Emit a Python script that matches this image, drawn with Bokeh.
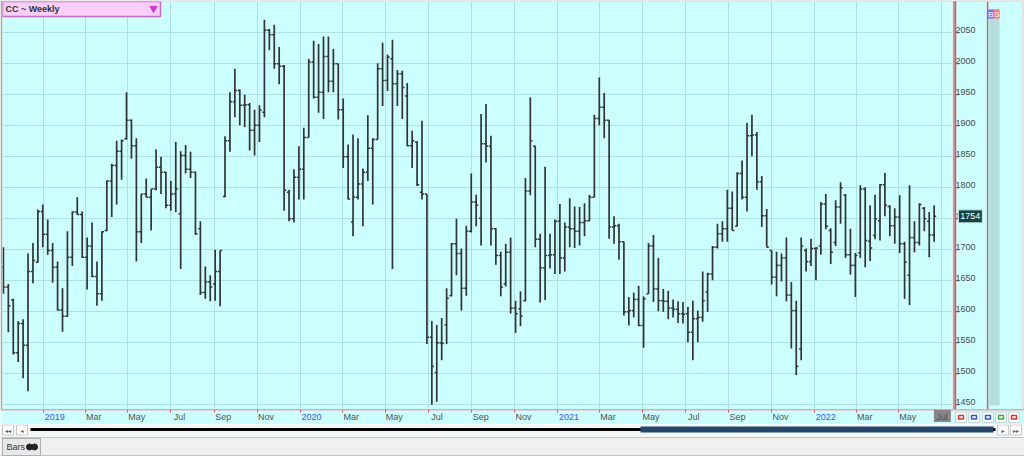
import pandas as pd
from bokeh.plotting import figure
from bokeh.models import Range1d, FixedTicker, ColumnDataSource, LinearAxis
from bokeh.layouts import column, row
from bokeh.embed import file_html
from bokeh.resources import INLINE
from bokeh.core.properties import value

# ---------------- data ----------------
title_text = "CC ~ Weekly"
first_week = "2018-11-05"

opens = [1672, 1640, 1619, 1534, 1581, 1546, 1665, 1680, 1762, 1725,
         1699, 1672, 1603, 1593, 1688, 1761, 1757, 1688, 1706, 1657,
         1629, 1731, 1811, 1836, 1859, 1879, 1909, 1868, 1729, 1790,
         1785, 1798, 1833, 1825, 1772, 1790, 1758, 1852, 1830, 1825,
         1734, 1631, 1648, 1645, 1665, 1786, 1876, 1939, 1957, 1933,
         1934, 1893, 1901, 1922, 2054, 2047, 2000, 1996, 1793, 1750,
         1817, 1830, 1881, 2003, 1946, 1954, 2012, 1972, 2000, 1926,
         1850, 1745, 1785, 1806, 1825, 1864, 1878, 1992, 1973, 2008,
         1968, 1984, 1948, 1868, 1874, 1793, 1790, 1559, 1502, 1550,
         1579, 1626, 1710, 1694, 1638, 1730, 1777, 1751, 1871, 1867,
         1734, 1691, 1645, 1696, 1606, 1605, 1618, 1795, 1867, 1717,
         1671, 1691, 1692, 1746, 1687, 1737, 1734, 1730, 1744, 1747,
         1785, 1912, 1930, 1909, 1737, 1739, 1713, 1600, 1602, 1620,
         1578, 1629, 1706, 1637, 1618, 1617, 1606, 1604, 1597, 1597,
         1567, 1589, 1591, 1632, 1661, 1704, 1726, 1734, 1767, 1738,
         1823, 1785, 1884, 1885, 1810, 1755, 1699, 1656, 1675, 1687,
         1627, 1602, 1540, 1699, 1681, 1702, 1706, 1774, 1731, 1712,
         1769, 1788, 1692, 1675, 1695, 1798, 1714, 1723, 1747, 1805,
         1770, 1739, 1753, 1710, 1659, 1720, 1712, 1767, 1746, 1724]
highs = [1704, 1645, 1621, 1585, 1588, 1694, 1711, 1765, 1773, 1749,
         1711, 1681, 1638, 1730, 1762, 1785, 1762, 1720, 1744, 1681,
         1730, 1812, 1839, 1876, 1878, 1954, 1910, 1880, 1790, 1815,
         1798, 1862, 1850, 1826, 1811, 1874, 1859, 1869, 1858, 1826,
         1746, 1673, 1659, 1700, 1699, 1883, 1954, 1992, 1959, 1950,
         1937, 1926, 1933, 2071, 2056, 2063, 2027, 1998, 1797, 1830,
         1867, 1897, 2008, 2037, 2032, 2044, 2044, 2024, 2000, 1944,
         1870, 1886, 1880, 1831, 1917, 1880, 2001, 2034, 2015, 2039,
         1990, 1989, 1969, 1892, 1875, 1908, 1790, 1585, 1579, 1590,
         1638, 1711, 1750, 1702, 1739, 1823, 1789, 1919, 1935, 1884,
         1735, 1697, 1710, 1720, 1618, 1633, 1816, 1946, 1868, 1726,
         1834, 1726, 1749, 1774, 1744, 1783, 1770, 1769, 1775, 1789,
         1918, 1978, 1953, 1909, 1754, 1742, 1713, 1624, 1631, 1642,
         1625, 1711, 1724, 1687, 1637, 1634, 1620, 1617, 1616, 1608,
         1618, 1602, 1665, 1663, 1706, 1742, 1746, 1797, 1794, 1825,
         1844, 1905, 1918, 1890, 1819, 1766, 1699, 1697, 1694, 1720,
         1648, 1618, 1720, 1702, 1718, 1704, 1777, 1790, 1735, 1780,
         1809, 1790, 1734, 1695, 1804, 1801, 1772, 1789, 1806, 1824,
         1772, 1767, 1788, 1713, 1804, 1746, 1775, 1769, 1761, 1772]
lows = [1629, 1567, 1531, 1519, 1493, 1472, 1646, 1679, 1704, 1692,
        1647, 1602, 1568, 1592, 1674, 1756, 1687, 1636, 1656, 1610,
        1618, 1730, 1753, 1773, 1813, 1878, 1847, 1681, 1711, 1785,
        1731, 1796, 1790, 1767, 1763, 1761, 1669, 1823, 1816, 1724,
        1627, 1621, 1617, 1618, 1609, 1785, 1858, 1914, 1901, 1898,
        1860, 1852, 1874, 1914, 2022, 1992, 1967, 1763, 1746, 1744,
        1781, 1781, 1881, 1944, 1921, 1911, 1954, 1954, 1910, 1832,
        1781, 1722, 1781, 1738, 1811, 1773, 1878, 1932, 1956, 1669,
        1932, 1911, 1867, 1832, 1803, 1781, 1548, 1450, 1455, 1522,
        1548, 1625, 1659, 1602, 1626, 1728, 1738, 1707, 1841, 1707,
        1676, 1625, 1641, 1597, 1566, 1577, 1617, 1788, 1704, 1615,
        1619, 1670, 1661, 1661, 1665, 1704, 1703, 1707, 1722, 1746,
        1785, 1901, 1880, 1718, 1710, 1684, 1594, 1578, 1591, 1577,
        1542, 1629, 1616, 1601, 1600, 1588, 1591, 1582, 1581, 1551,
        1522, 1551, 1584, 1600, 1651, 1702, 1713, 1713, 1731, 1738,
        1781, 1762, 1851, 1797, 1737, 1704, 1644, 1625, 1649, 1617,
        1541, 1498, 1522, 1665, 1674, 1651, 1692, 1733, 1677, 1706,
        1742, 1687, 1660, 1624, 1687, 1672, 1682, 1717, 1715, 1754,
        1722, 1710, 1695, 1621, 1611, 1696, 1707, 1730, 1688, 1713]
closes = [1640, 1610, 1534, 1581, 1546, 1665, 1683, 1762, 1725, 1699,
          1672, 1603, 1593, 1688, 1761, 1757, 1688, 1706, 1657, 1629,
          1729, 1811, 1836, 1859, 1876, 1909, 1868, 1729, 1790, 1785,
          1798, 1833, 1825, 1772, 1790, 1798, 1852, 1830, 1825, 1726,
          1631, 1648, 1640, 1665, 1699, 1876, 1939, 1957, 1933, 1934,
          1893, 1901, 1925, 2054, 2047, 2000, 1996, 1796, 1750, 1817,
          1830, 1881, 2003, 1946, 1954, 2012, 1972, 2000, 1926, 1850,
          1782, 1785, 1806, 1825, 1864, 1878, 1992, 1973, 2011, 1968,
          1984, 1962, 1868, 1876, 1805, 1790, 1559, 1512, 1550, 1549,
          1622, 1710, 1694, 1638, 1730, 1777, 1772, 1871, 1867, 1734,
          1691, 1640, 1696, 1606, 1597, 1593, 1795, 1876, 1717, 1671,
          1691, 1692, 1746, 1687, 1737, 1734, 1730, 1744, 1747, 1785,
          1912, 1930, 1909, 1737, 1739, 1713, 1600, 1602, 1620, 1578,
          1621, 1706, 1637, 1618, 1617, 1606, 1604, 1597, 1596, 1567,
          1589, 1591, 1618, 1661, 1704, 1726, 1734, 1767, 1731, 1823,
          1785, 1884, 1885, 1810, 1755, 1704, 1656, 1675, 1687, 1627,
          1602, 1512, 1706, 1681, 1702, 1703, 1774, 1738, 1696, 1769,
          1800, 1692, 1675, 1691, 1798, 1715, 1703, 1750, 1805, 1772,
          1739, 1753, 1710, 1680, 1720, 1712, 1773, 1750, 1724, 1754]
last_price = 1754

price_ticks = [1450, 1500, 1550, 1600, 1650, 1700, 1750, 1800, 1850,
               1900, 1950, 2000, 2050]
month_tick_dates = ["2019-01-01", "2019-03-01", "2019-05-01", "2019-07-01",
                    "2019-09-01", "2019-11-01", "2020-01-01", "2020-03-01",
                    "2020-05-01", "2020-07-01", "2020-09-01", "2020-11-01",
                    "2021-01-01", "2021-03-01", "2021-05-01", "2021-07-01",
                    "2021-09-01", "2021-11-01", "2022-01-01", "2022-03-01",
                    "2022-05-01", "2022-07-01"]
month_tick_labels = ["2019", "Mar", "May", "Jul", "Sep", "Nov",
                     "2020", "Mar", "May", "Jul", "Sep", "Nov",
                     "2021", "Mar", "May", "Jul", "Sep", "Nov",
                     "2022", "Mar", "May", "Jul"]
current_period = "2022-07-01"

x_start, x_end = "2018-11-03 17:00", "2022-07-16 02:00"
y_start, y_end = 1442.5, 2100.5

# ---------------- style ----------------
BG = "#CCFFFF"
GRID = "#AEE2E2"
RED = "#E8535B"
BAR = "#333333"
EDGE = "#A9A9A9"
FONT = "Liberation Sans"
FRAME_W, FRAME_H = 950, 408
NB = "\u00a0"


def ms(d):
    return pd.Timestamp(d).value // 10**6


xs_ms, xe_ms = ms(x_start), ms(x_end)
mpp = (xe_ms - xs_ms) / FRAME_W            # ms per pixel
upp = (y_end - y_start) / FRAME_H          # price units per pixel


def fx(px):                                # frame px -> date (main)
    return xs_ms + px * mpp


def fy(py):                                # frame px from top -> price
    return y_end - py * upp


dates = pd.date_range(first_week, periods=len(closes), freq="7D")
half = pd.Timedelta(days=3)
src = ColumnDataSource(dict(x=dates, xl=dates - half, xr=dates + half,
                            o=opens, h=highs, l=lows, c=closes))

common = dict(toolbar_location=None, output_backend="svg", outline_line_color=None)

# ---------------- main price panel ----------------
p = figure(width=952, height=409, x_range=Range1d(xs_ms, xe_ms),
           y_range=Range1d(y_start, y_end), x_axis_location=None, y_axis_location=None,
           min_border_left=2, min_border_top=1, min_border_right=0, min_border_bottom=0,
           background_fill_color=BG, border_fill_color=EDGE, **common)

tick_ms = [ms(d) for d in month_tick_dates]
p.xgrid.ticker = FixedTicker(ticks=tick_ms)
p.ygrid.ticker = FixedTicker(ticks=price_ticks)
p.xgrid.grid_line_color = GRID
p.ygrid.grid_line_color = GRID

p.segment("x", "l", "x", "h", source=src, line_color=BAR, line_width=1.7)
p.segment("xl", "o", "x", "o", source=src, line_color=BAR, line_width=1.5)
p.segment("x", "c", "xr", "c", source=src, line_color=BAR, line_width=1.5)

# header box
p.quad(left=[fx(0)], right=[fx(158)], top=[fy(0)], bottom=[fy(15)],
       fill_color="#F7CFF7", line_color="#CC66CC", line_width=1.5)
p.text(x=[fx(3)], y=[fy(7.5)], text=[title_text], text_font=value(FONT),
       text_font_style="bold", text_font_size="9px", text_baseline="middle",
       text_color="#333333")
p.scatter(x=[fx(151)], y=[fy(7)], marker="inverted_triangle", size=7,
          color="#DD33DD")

# ---------------- right price-axis panel ----------------
pr = figure(width=72, height=409, x_range=Range1d(0, 72), y_range=p.y_range,
            x_axis_location=None, y_axis_location="left",
            min_border_left=0, min_border_top=1, min_border_right=0, min_border_bottom=0,
            background_fill_color=BG, border_fill_color=EDGE, **common)
pr.grid.visible = False
label_shift = 3 * upp                      # labels sit 3px above their tick
ya = pr.yaxis[0]
ya.ticker = FixedTicker(ticks=[t + label_shift for t in price_ticks])
ya.major_label_overrides = {t + label_shift: str(t) for t in price_ticks}
ya.axis_line_color = RED
ya.axis_line_width = 1.5
ya.major_tick_line_color = None
ya.minor_tick_line_color = None
ya.major_label_standoff = -26
ya.major_label_text_font = FONT
ya.major_label_text_font_size = "9px"
ya.major_label_text_color = "#4a4a4a"
pr.segment(x0=[0] * len(price_ticks), y0=price_ticks, x1=[3.5] * len(price_ticks),
           y1=price_ticks, line_color=RED, line_width=1)

pr.segment(x0=[33.5], y0=[y_start], x1=[33.5], y1=[y_end], line_color=RED, line_width=1.5)
pr.quad(left=[34], right=[46], top=[fy(8)], bottom=[fy(404)], fill_color="#B6DEDE",
        line_color=None)
pr.quad(left=[34, 40], right=[40, 46], top=[fy(8), fy(8)], bottom=[fy(17), fy(17)],
        fill_color=["#7474FF", "#FF7474"], line_color=None)
pr.text(x=[37, 43], y=[fy(12.5), fy(12.5)], text=["B", "S"], text_font=value(FONT),
        text_font_size="8px", text_align="center", text_baseline="middle",
        text_color="white")
pr.quad(left=[69], right=[72], top=[y_end], bottom=[y_start], fill_color="#E4E4E4",
        line_color=None)
# last price tag
pr.quad(left=[3], right=[28], top=[last_price + 6.5 * upp], bottom=[last_price - 6.5 * upp],
        fill_color="#124646", line_color="#CFE8E8", level="overlay")
pr.text(x=[15.5], y=[last_price], text=[str(last_price)], text_font=value(FONT),
        text_font_size="9px", text_align="center", text_baseline="middle",
        text_color="white", level="overlay")

# ---------------- date-axis strip ----------------
xb0, xb1 = xs_ms - 2 * mpp, xs_ms + 1022 * mpp
pb = figure(width=1024, height=15, x_range=Range1d(xb0, xb1), y_range=Range1d(15, 0),
            x_axis_location="above", y_axis_location=None, min_border=0,
            background_fill_color=BG, border_fill_color=BG, **common)
pb.grid.visible = False


def pad(lab):
    return NB * (2 * len(lab) + 1) + lab


m_over, y_over = {}, {}
year_ticks = []
for t, lab, d in zip(tick_ms, month_tick_labels, month_tick_dates):
    if lab.isdigit():
        m_over[t] = ""
        y_over[t] = pad(lab)
        year_ticks.append(t)
    elif d == current_period:
        m_over[t] = lab
    else:
        m_over[t] = pad(lab)

jt = ms(current_period)
pb.quad(left=[jt - 8 * mpp], right=[jt + 9 * mpp], top=[0.5], bottom=[12.5],
        fill_color="#868686", line_color=None)

xa = pb.xaxis[0]
xa.fixed_location = 0
xa.ticker = FixedTicker(ticks=tick_ms)
xa.major_label_overrides = m_over
xa.axis_line_color = RED
xa.axis_line_width = 1.5
xa.major_tick_line_color = RED
xa.major_tick_in = 3
xa.major_tick_out = 0
xa.minor_tick_line_color = None
xa.major_label_standoff = -12
xa.major_label_text_font = FONT
xa.major_label_text_font_size = "9px"
xa.major_label_text_color = "#505050"

xy = LinearAxis(ticker=FixedTicker(ticks=year_ticks), major_label_overrides=y_over,
                fixed_location=0,
                axis_line_color=None, major_tick_line_color=None,
                minor_tick_line_color=None, major_label_standoff=-18,
                major_label_text_font=FONT, major_label_text_font_size="9px",
                major_label_text_color="#3355FF")
pb.add_layout(xy, "above")


def bx(page_x):
    return xb0 + page_x * mpp


icon_left = [955, 968, 982, 995, 1008]
icon_col = ["#E03030", "#3050E0", "#3050E0", "#30B030", "#E03030"]
pb.quad(left=[bx(v) for v in icon_left], right=[bx(v + 11) for v in icon_left],
        top=[2.5] * 5, bottom=[13] * 5, fill_color="white", line_color="#BFD8D8")
pb.quad(left=[bx(v + 3) for v in icon_left], right=[bx(v + 8) for v in icon_left],
        top=[6] * 5, bottom=[9.5] * 5, fill_color=None, line_color=icon_col, line_width=1.5)

# ---------------- scroll strip ----------------
ps = figure(width=1024, height=12, x_range=Range1d(0, 1024), y_range=Range1d(12, 0),
            x_axis_location=None, y_axis_location=None, min_border=0,
            background_fill_color="#F2F7F7", border_fill_color="#F2F7F7", **common)
ps.grid.visible = False
ps.segment(x0=[30], y0=[5], x1=[995], y1=[5], line_color="black", line_width=3)
ps.quad(left=[640], right=[993], top=[2], bottom=[8], fill_color="#22466E", line_color=None)
ps.quad(left=[2, 16, 997, 1010], right=[13, 27, 1008, 1021], top=[0.5] * 4,
        bottom=[10.5] * 4, fill_color="white", line_color="#C8C8C8")
ps.text(x=[7.5, 21.5, 1002.5, 1015.5], y=[5.5] * 4, text=["◂◂", "◂", "▸", "▸▸"],
        text_font=value("DejaVu Sans"), text_font_size="6px", text_align="center",
        text_baseline="middle", text_color="#555555")

# ---------------- tab strip ----------------
pt = figure(width=1024, height=20, x_range=Range1d(0, 1024), y_range=Range1d(20, 0),
            x_axis_location=None, y_axis_location=None, min_border=0,
            background_fill_color="#F0F0F0", border_fill_color="#F0F0F0", **common)
pt.grid.visible = False
pt.segment(x0=[0, 0], y0=[1, 19], x1=[1024, 1024], y1=[1, 19], line_color="#C4C4C4",
           line_width=1)
pt.quad(left=[2], right=[40], top=[2], bottom=[19], fill_color="#E8E8E8", line_color="#B0B0B0")
pt.text(x=[6], y=[10.5], text=["Bars"], text_font=value(FONT), text_font_size="9px",
        text_baseline="middle", text_color="#333333")
pt.scatter(x=[29, 34], y=[10.5, 10.5], size=6, color="#222222")

layout = column(row(p, pr), pb, ps, pt)
open("out.html", "w").write(file_html(layout, INLINE))
